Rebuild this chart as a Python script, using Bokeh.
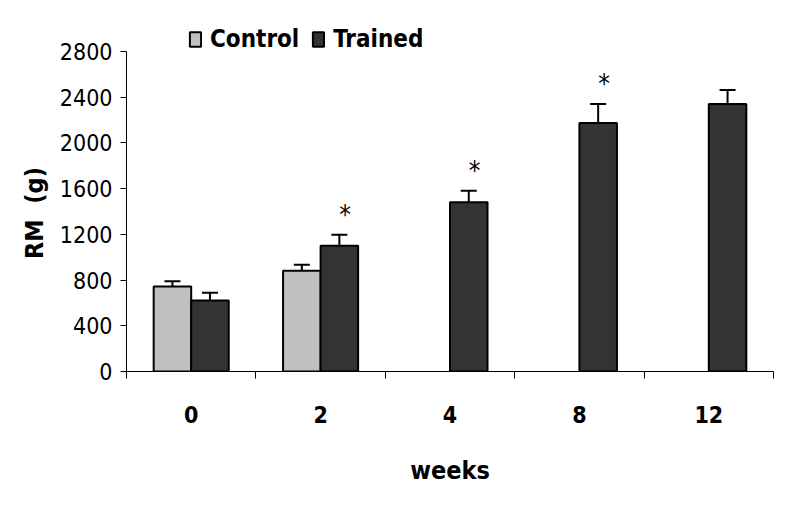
from bokeh.plotting import figure
from bokeh.models import (Range1d, FixedTicker, Whisker, ColumnDataSource, Legend,
                          LegendItem, TeeHead)
from bokeh.core.properties import value
from bokeh.embed import file_html
from bokeh.resources import INLINE

# ---- data ----
weeks = ["0", "2", "4", "8", "12"]
control_weeks = ["0", "2"]
control_mean = [744, 881]
control_sem = [45, 52]
trained_mean = [621, 1100, 1482, 2174, 2341]
trained_sem = [67, 96, 99, 166, 123]
significant = [False, True, True, True, False]
y_ticks = [0, 400, 800, 1200, 1600, 2000, 2400, 2800]

NARROW = "DejaVu Sans Condensed"
BAR_W = 0.29
STAR_OFFSET = 172

ctrl_x = [weeks.index(w) + 0.5 - BAR_W / 2 for w in control_weeks]
tr_x = [i + 0.5 + BAR_W / 2 for i in range(len(weeks))]

src_c = ColumnDataSource(dict(x=ctrl_x, top=control_mean,
                              upper=[m + s for m, s in zip(control_mean, control_sem)]))
src_t = ColumnDataSource(dict(x=tr_x, top=trained_mean,
                              upper=[m + s for m, s in zip(trained_mean, trained_sem)]))
star_x = [x + 0.045 for x, s in zip(tr_x, significant) if s]
star_y = [m + e + STAR_OFFSET for m, e, s in zip(trained_mean, trained_sem, significant) if s]
src_s = ColumnDataSource(dict(x=star_x, y=star_y, t=["*"] * len(star_x)))

p = figure(width=783, height=501, x_range=Range1d(0, len(weeks)), y_range=Range1d(0, 3115),
           output_backend="svg", toolbar_location=None,
           min_border_left=126, min_border_right=10, min_border_top=15, min_border_bottom=130)
p.outline_line_color = None
p.xgrid.grid_line_color = None
p.ygrid.grid_line_color = None
p.background_fill_color = "white"

rc = p.vbar(x="x", top="top", bottom=0, width=BAR_W, source=src_c,
            fill_color="#c0c0c0", line_color="black", line_width=2)
rt = p.vbar(x="x", top="top", bottom=0, width=BAR_W, source=src_t,
            fill_color="#333333", line_color="black", line_width=2)

for src in (src_c, src_t):
    w = Whisker(source=src, base="x", lower="top", upper="upper", dimension="height",
                line_width=2, line_color="black",
                upper_head=TeeHead(size=16, line_width=2, line_color="black"),
                lower_head=None)
    p.add_layout(w)

p.text(x="x", y="y", text="t", source=src_s, text_font=value(NARROW),
       text_font_size="26px", text_align="center", text_baseline="middle",
       text_color="black")

# y axis
ya = p.yaxis[0]
ya.bounds = (0, 2800)
ya.ticker = FixedTicker(ticks=y_ticks)
ya.minor_tick_line_color = None
ya.major_tick_in = 0
ya.major_tick_out = 6
ya.axis_line_color = "black"
ya.major_tick_line_color = "black"
ya.major_label_text_font = NARROW
ya.major_label_text_font_size = "23px"
ya.major_label_text_color = "black"
ya.major_label_standoff = 8
ya.axis_label = "RM\u00a0\u00a0(g)" + "\u00a0" * 5
ya.axis_label_text_font = NARROW
ya.axis_label_text_font_style = "bold"
ya.axis_label_text_font_size = "25px"
ya.axis_label_text_color = "black"
ya.axis_label_standoff = 8

# x axis
xa = p.xaxis[0]
centers = [i + 0.5 for i in range(len(weeks))]
xa.ticker = FixedTicker(ticks=centers, minor_ticks=list(range(len(weeks) + 1)))
xa.major_label_overrides = {c: w for c, w in zip(centers, weeks)}
xa.major_tick_in = 0
xa.major_tick_out = 0
xa.minor_tick_in = 0
xa.minor_tick_out = 7
xa.minor_tick_line_color = "black"
xa.axis_line_color = "black"
xa.major_label_text_font = NARROW
xa.major_label_text_font_style = "bold"
xa.major_label_text_font_size = "23px"
xa.major_label_text_color = "black"
xa.major_label_standoff = 27
xa.axis_label = "weeks"
xa.axis_label_text_font = NARROW
xa.axis_label_text_font_style = "bold"
xa.axis_label_text_font_size = "25px"
xa.axis_label_text_color = "black"
xa.axis_label_standoff = 30

legend = Legend(items=[LegendItem(label=value("Control"), renderers=[rc]),
                       LegendItem(label=value("Trained"), renderers=[rt])],
                orientation="horizontal", location=(62, 318),
                label_text_font=NARROW, label_text_font_style="bold",
                label_text_font_size="24px", label_text_color="black",
                glyph_width=14, glyph_height=18, label_standoff=8, spacing=12,
                padding=0, margin=0, border_line_color=None, background_fill_alpha=0)
p.add_layout(legend)

open("out.html", "w").write(file_html(p, INLINE))
